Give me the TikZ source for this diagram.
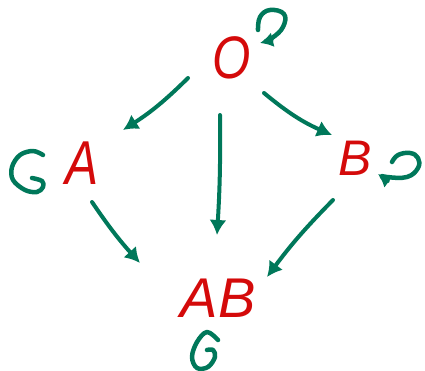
\documentclass[tikz,border=0pt]{standalone}
\usepackage{fontspec}
\setmainfont{Liberation Sans}
\usetikzlibrary{arrows.meta}
\definecolor{hred}{HTML}{D40A0A}
\definecolor{hgreen}{HTML}{00785A}
\begin{document}
\begin{tikzpicture}[x=1pt,y=-1pt,
  lbl/.style={text=hred,font=\fontsize{60}{60}\selectfont\itshape,inner sep=0pt},
  arr/.style={draw=hgreen,line width=4pt,line cap=round,-{Latex[length=15pt,width=17pt]}},
  loopline/.style={draw=hgreen,line width=4.5pt,line cap=round,line join=round},
  looparr/.style={loopline,-{Latex[length=13pt,width=15pt]}}]
\useasboundingbox (0,0) rectangle (425,371);
\node[lbl,xscale=0.82] (O) at (232,58) {O};
\node[lbl,xscale=0.8,font=\fontsize{62}{62}\selectfont\itshape] (A) at (82,163) {A};
\node[lbl,font=\fontsize{50}{50}\selectfont\itshape] (B) at (355,158) {B};
\node[lbl,font=\fontsize{56}{56}\selectfont\itshape] (AB) at (218,298) {AB};
% connectors
\draw[arr] ([shift={(-44,20)}]O.center) to[bend left=6] ([shift={(41,-33)}]A.center);
\draw[arr] ([shift={(-12,57)}]O.center) to[bend left=2] ([shift={(-1,-63)}]AB.center);
\draw[arr] ([shift={(32,35)}]O.center) to[bend right=8] ([shift={(-23,-23)}]B.center);
\draw[arr] ([shift={(10,39)}]A.center) to[bend right=4] ([shift={(-78,-35)}]AB.center);
\draw[arr] ([shift={(-22,42)}]B.center) to[bend right=4] ([shift={(49,-21)}]AB.center);
% self loops
\begin{scope}[shift={(O.center)}]
  \draw[looparr] plot[smooth,tension=0.7] coordinates {(26,-28) (28,-41) (38,-48) (52,-44) (51,-31) (40,-20) (28,-15)};
\end{scope}
\begin{scope}[shift={(B.center)}]
  \draw[looparr] plot[smooth,tension=0.7] coordinates {(37,4) (43,-3) (55,-5) (63,0) (63,10) (52,19) (32,19) (23,16)};
\end{scope}
\begin{scope}[shift={(A.center)}]
  \draw[loopline] plot[smooth,tension=0.6] coordinates {(-39,-8) (-49,-12) (-62,-8) (-70,4) (-69,17) (-57,27) (-45,29) (-39,24) (-40,18) (-50,15)};
\end{scope}
\begin{scope}[shift={(AB.center)}]
  \draw[loopline] plot[smooth,tension=0.6] coordinates {(0,42) (-11,34) (-21,44) (-26,59) (-21,70) (-10,69) (-3,59) (-5,52) (-11,52)};
\end{scope}
\end{tikzpicture}
\end{document}
